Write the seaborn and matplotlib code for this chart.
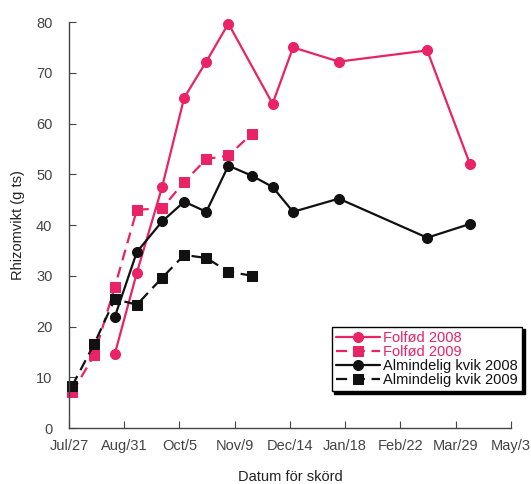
import matplotlib
matplotlib.use('Agg')
import matplotlib.pyplot as plt
import seaborn as sns

# dagar efter Jul/27
dagar_2009 = [2, 16, 29, 43, 59, 73, 87, 101, 116]
folfod_2009 = [7.0, 14.4, 27.8, 43.0, 43.3, 48.5, 53.0, 53.7, 58.0]
kvik_2009 = [8.3, 16.6, 25.4, 24.3, 29.6, 34.1, 33.5, 30.8, 30.0]

dagar_folfod_2008 = [29, 43, 59, 73, 87, 101, 129, 142, 171, 227, 254]
folfod_2008 = [14.6, 30.6, 47.5, 65.1, 72.2, 79.7, 63.9, 75.0, 72.2, 74.4, 52.1]

dagar_kvik_2008 = [29, 43, 59, 73, 87, 101, 116, 129, 142, 171, 227, 254]
kvik_2008 = [21.9, 34.7, 40.7, 44.6, 42.6, 51.7, 49.7, 47.5, 42.6, 45.2, 37.5, 40.2]

tick_dagar = [0, 35, 70, 105, 140, 175, 210, 245, 280]
tick_etiketter = ['Jul/27', 'Aug/31', 'Oct/5', 'Nov/9', 'Dec/14', 'Jan/18', 'Feb/22', 'Mar/29', 'May/3']

sns.set_style('ticks')
plt.rcParams['font.family'] = ['Liberation Sans', 'DejaVu Sans']

ROSA = '#ea2266'
SVART = '#111111'

fig = plt.figure(figsize=(5.31, 4.84), dpi=100)
ax = fig.add_axes([0.130, 0.1157, 0.832, 0.8388])

serier = [
    ('Folfød 2008', dagar_folfod_2008, folfod_2008, ROSA, 'o', '-'),
    ('Folfød 2009', dagar_2009, folfod_2009, ROSA, 's', (0, (5, 3))),
    ('Almindelig kvik 2008', dagar_kvik_2008, kvik_2008, SVART, 'o', '-'),
    ('Almindelig kvik 2009', dagar_2009, kvik_2009, SVART, 's', (0, (5, 3))),
]

for namn, x, y, farg, mark, stil in serier:
    sns.lineplot(x=x, y=y, ax=ax, color=farg, marker=mark, markersize=7.2,
                 markeredgecolor=farg, linewidth=1.6, linestyle=stil,
                 label=namn, clip_on=False)

ax.set_xlim(0, 280)
ax.set_ylim(0, 80)
ax.set_xticks(tick_dagar)
ax.set_xticklabels(tick_etiketter)
ax.set_yticks(range(0, 81, 10))
ax.tick_params(direction='in', length=5, labelsize=10.5, colors='#444444')
ax.tick_params(axis='x', pad=8)
ax.tick_params(axis='y', pad=12)
for s in ['top', 'right']:
    ax.spines[s].set_visible(False)
for s in ['left', 'bottom']:
    ax.spines[s].set_color('#444444')
    ax.spines[s].set_linewidth(1.0)

ax.set_xlabel('Datum för skörd', fontsize=10.5, color='#222222', labelpad=12)
ax.set_ylabel('Rhizomvikt (g ts)', fontsize=10.5, color='#222222', labelpad=8)

leg = ax.legend(loc='lower right', bbox_to_anchor=(1.025, 0.09), borderaxespad=0,
                fontsize=10.5, handlelength=3.0, labelspacing=0.0, handletextpad=0.2,
                borderpad=0.3, frameon=True, fancybox=False,
                shadow={'color': 'black', 'alpha': 1.0},
                edgecolor='black', framealpha=1.0)
leg.get_frame().set_linewidth(1.0)
for txt, (_, _, _, farg, _, _) in zip(leg.get_texts(), serier):
    txt.set_color(farg)

fig.savefig('out.png', dpi=100)
